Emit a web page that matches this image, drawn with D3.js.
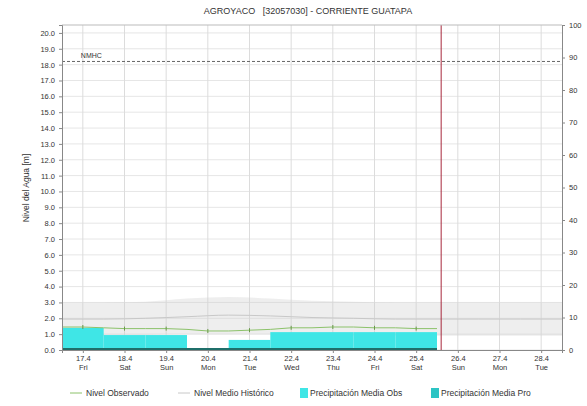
<!DOCTYPE html>
<html lang="es">
<head>
    <meta charset="UTF-8">
    <title>AGROYACO</title>
    <script src="https://cdn.jsdelivr.net/npm/d3@7"></script>
    <style>
        body, html { margin: 0; padding: 0; background: #fff; }
        svg { display: block; }
        text { font-family: "Liberation Sans", Arial, sans-serif; fill: #333; }
    </style>
</head>
<body>
    <svg id="mainsvg"></svg>
    <script>
        // datos
        const titulo = 'AGROYACO   [32057030] - CORRIENTE GUATAPA';
        const dias = [17, 18, 19, 20, 21, 22, 23, 24, 25, 26, 27, 28];
        const diasSemana = ['Fri', 'Sat', 'Sun', 'Mon', 'Tue', 'Wed', 'Thu', 'Fri', 'Sat', 'Sun', 'Mon', 'Tue'];
        const leftTicks = d3.range(0, 20.01, 1);
        const rightTicks = [0, 10, 20, 30, 40, 50, 60, 70, 80, 90, 100];

        // precipitacion media observada por dia (mm, eje derecho)
        const precipDias = [17, 18, 19, 20, 21, 22, 23, 24, 25];
        const precipObs = [6.8, 4.6, 4.6, 0, 3.1, 5.5, 5.5, 5.5, 5.5];

        // nivel observado (m)
        const nivelT = [16.5, 17, 17.5, 18, 18.5, 19, 19.5, 20, 20.5, 21, 21.5, 22, 22.5, 23, 23.5, 24, 24.5, 25, 25.5];
        const nivelObs = [1.45, 1.45, 1.4, 1.35, 1.35, 1.35, 1.3, 1.2, 1.2, 1.25, 1.3, 1.4, 1.4, 1.45, 1.45, 1.4, 1.4, 1.35, 1.35];

        // nivel medio historico y rango historico (m)
        const histT = [16.5, 17.5, 18.5, 19.5, 20.5, 21.5, 22.5, 23.5, 24.5, 25.5, 26.5, 27.5, 28.5];
        const histMedio = [1.95, 1.95, 2.0, 2.1, 2.2, 2.15, 2.05, 2.0, 1.95, 1.95, 1.95, 1.95, 1.95];
        const histMin = [0.9, 0.9, 0.95, 1.0, 1.0, 1.0, 0.95, 0.9, 0.9, 0.9, 0.9, 0.9, 0.9];
        const histMax = [3.0, 3.0, 3.05, 3.25, 3.35, 3.25, 3.1, 3.05, 3.0, 3.0, 3.0, 3.0, 3.0];

        const nivelMaximo = 18.2;
        const nivelMaximoLabel = 'NMHC';
        const ahora = 25.6;

        const legendItems = ['Nivel Observado', 'Nivel Medio Histórico', 'Precipitación Media Obs', 'Precipitación Media Pro'];

        const width = 587, height = 406;
        const svg = d3.select('svg').attr('width', width).attr('height', height);

        const margin = { top: 25, right: 25, bottom: 56, left: 62 };
        const innerWidth = width - margin.left - margin.right;
        const innerHeight = height - margin.top - margin.bottom;

        const g = svg.append('g').attr('transform', `translate(${margin.left}, ${margin.top})`);

        const xScale = d3.scaleLinear().domain([16.5, 28.5]).range([0, innerWidth]);
        const yScale = d3.scaleLinear().domain([0, 20.5]).range([innerHeight, 0]);
        const y2Scale = d3.scaleLinear().domain([0, 100]).range([innerHeight, 0]);

        // rejilla
        g.append('g').selectAll('line').data(leftTicks).join('line')
            .attr('x1', 0).attr('x2', innerWidth)
            .attr('y1', d => yScale(d)).attr('y2', d => yScale(d))
            .attr('stroke', '#e6e6e6').attr('stroke-width', 1);
        g.append('g').selectAll('line').data(dias).join('line')
            .attr('x1', d => xScale(d)).attr('x2', d => xScale(d))
            .attr('y1', 0).attr('y2', innerHeight)
            .attr('stroke', '#dcdcdc').attr('stroke-width', 1);

        // rango historico
        const histData = histT.map((t, i) => ({ t, lo: histMin[i], hi: histMax[i], m: histMedio[i] }));
        g.append('path').datum(histData)
            .attr('fill', '#cfcfcf').attr('fill-opacity', 0.35)
            .attr('d', d3.area().x(d => xScale(d.t)).y0(d => yScale(d.lo)).y1(d => yScale(d.hi)).curve(d3.curveMonotoneX));

        // precipitacion observada
        g.append('g').selectAll('rect').data(precipDias.map((d, i) => ({ d, v: precipObs[i] }))).join('rect')
            .attr('x', d => xScale(d.d - 0.5))
            .attr('width', d => xScale(d.d + 0.5) - xScale(d.d - 0.5))
            .attr('y', d => y2Scale(d.v))
            .attr('height', d => innerHeight - y2Scale(d.v))
            .attr('fill', '#3fe6e6');

        // nivel medio historico
        g.append('path').datum(histData)
            .attr('fill', 'none').attr('stroke', '#c8c8c8').attr('stroke-width', 1)
            .attr('d', d3.line().x(d => xScale(d.t)).y(d => yScale(d.m)).curve(d3.curveMonotoneX));

        // nivel observado
        const obsData = nivelT.map((t, i) => ({ t, v: nivelObs[i] }));
        g.append('path').datum(obsData)
            .attr('fill', 'none').attr('stroke', '#8cc26a').attr('stroke-width', 1)
            .attr('d', d3.line().x(d => xScale(d.t)).y(d => yScale(d.v)));
        g.append('g').selectAll('line').data(obsData.filter((d, i) => i % 2 === 1)).join('line')
            .attr('x1', d => xScale(d.t)).attr('x2', d => xScale(d.t))
            .attr('y1', d => yScale(d.v) - 2).attr('y2', d => yScale(d.v) + 2)
            .attr('stroke', '#6a9a4a').attr('stroke-width', 1);

        // linea inferior del periodo observado
        g.append('line')
            .attr('x1', xScale(16.5)).attr('x2', xScale(precipDias[precipDias.length - 1] + 0.5))
            .attr('y1', innerHeight - 1).attr('y2', innerHeight - 1)
            .attr('stroke', '#1f6f6a').attr('stroke-width', 2);

        // nivel maximo
        g.append('line')
            .attr('x1', 0).attr('x2', innerWidth)
            .attr('y1', yScale(nivelMaximo)).attr('y2', yScale(nivelMaximo))
            .attr('stroke', '#666').attr('stroke-dasharray', '3,2').attr('stroke-width', 1);
        g.append('text').text(nivelMaximoLabel)
            .attr('x', xScale(17) - 2).attr('y', yScale(nivelMaximo) - 3)
            .attr('font-size', '7px');

        // momento actual
        g.append('line')
            .attr('x1', xScale(ahora)).attr('x2', xScale(ahora))
            .attr('y1', 0).attr('y2', innerHeight)
            .attr('stroke', '#a8283c').attr('stroke-width', 1);

        // marco superior
        g.append('line').attr('x1', 0).attr('x2', innerWidth).attr('y1', 0).attr('y2', 0)
            .attr('stroke', '#bbb');

        // ejes
        const yAxis = d3.axisLeft(yScale).tickValues(leftTicks).tickFormat(d3.format('.1f')).tickSize(3).tickPadding(4);
        const y2Axis = d3.axisRight(y2Scale).tickValues(rightTicks).tickSize(3).tickPadding(4);
        const xAxis = d3.axisBottom(xScale).tickValues(dias).tickSize(3);

        const yAxisGroup = g.append('g').call(yAxis);
        const y2AxisGroup = g.append('g').attr('transform', `translate(${innerWidth}, 0)`).call(y2Axis);
        const xAxisGroup = g.append('g').attr('transform', `translate(0, ${innerHeight})`).call(xAxis);

        [yAxisGroup, y2AxisGroup, xAxisGroup].forEach(ag => {
            ag.attr('font-family', null).attr('font-size', 7.5);
            ag.select('.domain').attr('stroke', '#888');
            ag.selectAll('.tick line').attr('stroke', '#888');
            ag.selectAll('.tick text').attr('fill', '#444');
        });

        // etiquetas de fecha en dos lineas
        xAxisGroup.selectAll('.tick text').text(null).attr('dy', null).attr('y', 0)
            .each(function(d, i) {
                const t = d3.select(this);
                t.append('tspan').text(d + '.4').attr('x', 0).attr('y', 11);
                t.append('tspan').text(diasSemana[i]).attr('x', 0).attr('y', 20);
            });

        g.append('text').text('Nivel del Agua [m]')
            .attr('transform', 'rotate(-90)')
            .attr('x', -(188 - margin.top)).attr('y', -33)
            .attr('text-anchor', 'middle').attr('font-size', '8.5px');

        // titulo
        svg.append('text').text(titulo)
            .attr('x', 308).attr('y', 14)
            .attr('text-anchor', 'middle').attr('font-size', '9px').attr('xml:space', 'preserve');

        // leyenda
        const legY = 393;
        const legend = svg.append('g').attr('font-size', '8.5px');
        legend.append('line').attr('x1', 70).attr('x2', 82).attr('y1', legY).attr('y2', legY).attr('stroke', '#8cc26a');
        legend.append('text').text(legendItems[0]).attr('x', 86).attr('y', legY + 3);
        legend.append('line').attr('x1', 178).attr('x2', 190).attr('y1', legY).attr('y2', legY).attr('stroke', '#c8c8c8');
        legend.append('text').text(legendItems[1]).attr('x', 194).attr('y', legY + 3);
        legend.append('rect').attr('x', 300).attr('y', legY - 5).attr('width', 8).attr('height', 10).attr('fill', '#3fe6e6');
        legend.append('text').text(legendItems[2]).attr('x', 310).attr('y', legY + 3);
        legend.append('rect').attr('x', 431).attr('y', legY - 5).attr('width', 8).attr('height', 10).attr('fill', '#2cc4c4');
        legend.append('text').text(legendItems[3]).attr('x', 441).attr('y', legY + 3);
    </script>
</body>
</html>
